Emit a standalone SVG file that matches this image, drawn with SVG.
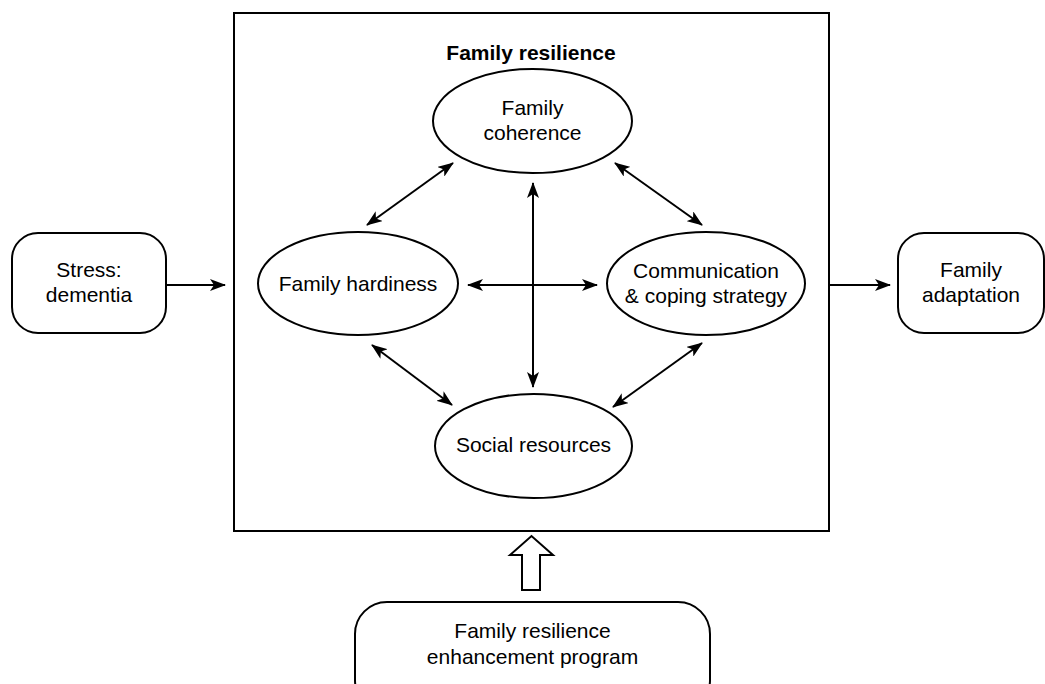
<svg xmlns="http://www.w3.org/2000/svg" width="1045" height="684" viewBox="0 0 1045 684">
<style>
.box{fill:#fff;stroke:#000;stroke-width:2}
.ell{fill:#fff;stroke:#000;stroke-width:2}
.t{font-family:"Liberation Sans",Arial,sans-serif;font-size:21px;fill:#000;text-anchor:middle}
.tb{font-weight:bold}
.c{stroke:#000;stroke-width:2;fill:none}
.dbl{marker-start:url(#ah);marker-end:url(#ah)}
.sgl{marker-end:url(#ah)}
</style>
<defs>
<marker id="ah" viewBox="0 0 16 12" refX="15" refY="6" markerWidth="16" markerHeight="12" markerUnits="userSpaceOnUse" orient="auto-start-reverse">
<path d="M0,0 L16,6 L0,12 L4,6 z" fill="#000"/>
</marker>
</defs>
<rect width="1045" height="684" fill="#fff"/>
<g id="family-resilience">
<rect class="box" x="234" y="13" width="595" height="518"/>
<text class="t tb" x="531" y="60">Family resilience</text>
</g>
<g id="stress">
<rect class="box" x="12" y="233" width="154" height="100" rx="26"/>
<text class="t" x="89" y="277">Stress:</text>
<text class="t" x="89" y="302">dementia</text>
</g>
<g id="adaptation">
<rect class="box" x="898" y="233" width="146" height="100" rx="26"/>
<text class="t" x="971" y="277">Family</text>
<text class="t" x="971" y="302">adaptation</text>
</g>
<g id="coherence">
<ellipse class="ell" cx="532.5" cy="121" rx="99.5" ry="52"/>
<text class="t" x="532.5" y="115">Family</text>
<text class="t" x="532.5" y="140">coherence</text>
</g>
<g id="hardiness">
<ellipse class="ell" cx="358" cy="283.5" rx="100" ry="51.5"/>
<text class="t" x="358" y="291">Family hardiness</text>
</g>
<g id="communication">
<ellipse class="ell" cx="706" cy="283.5" rx="99" ry="51.5"/>
<text class="t" x="706" y="278">Communication</text>
<text class="t" x="706" y="303">&amp; coping strategy</text>
</g>
<g id="social">
<ellipse class="ell" cx="533.5" cy="446" rx="98.5" ry="52"/>
<text class="t" x="533.5" y="452">Social resources</text>
</g>
<g id="program">
<rect class="box" x="355" y="602" width="355" height="110" rx="32"/>
<text class="t" x="532.5" y="638">Family resilience</text>
<text class="t" x="532.5" y="664">enhancement program</text>
</g>
<g id="connectors">
<line class="c dbl" x1="367" y1="225" x2="453" y2="163"/>
<line class="c dbl" x1="615" y1="163" x2="702" y2="225"/>
<line class="c dbl" x1="372" y1="345" x2="452" y2="405"/>
<line class="c dbl" x1="702" y1="343" x2="613" y2="407"/>
<line class="c dbl" x1="468" y1="285" x2="597" y2="285"/>
<line class="c dbl" x1="533" y1="183" x2="533" y2="387"/>
<line class="c sgl" x1="166" y1="285" x2="225" y2="285"/>
<line class="c sgl" x1="829" y1="285" x2="890" y2="285"/>
<path d="M522,590 L540,590 L540,555 L553,555 L531.5,536 L510,555 L522,555 Z" fill="#fff" stroke="#000" stroke-width="2" stroke-linejoin="miter"/>
</g>
</svg>
